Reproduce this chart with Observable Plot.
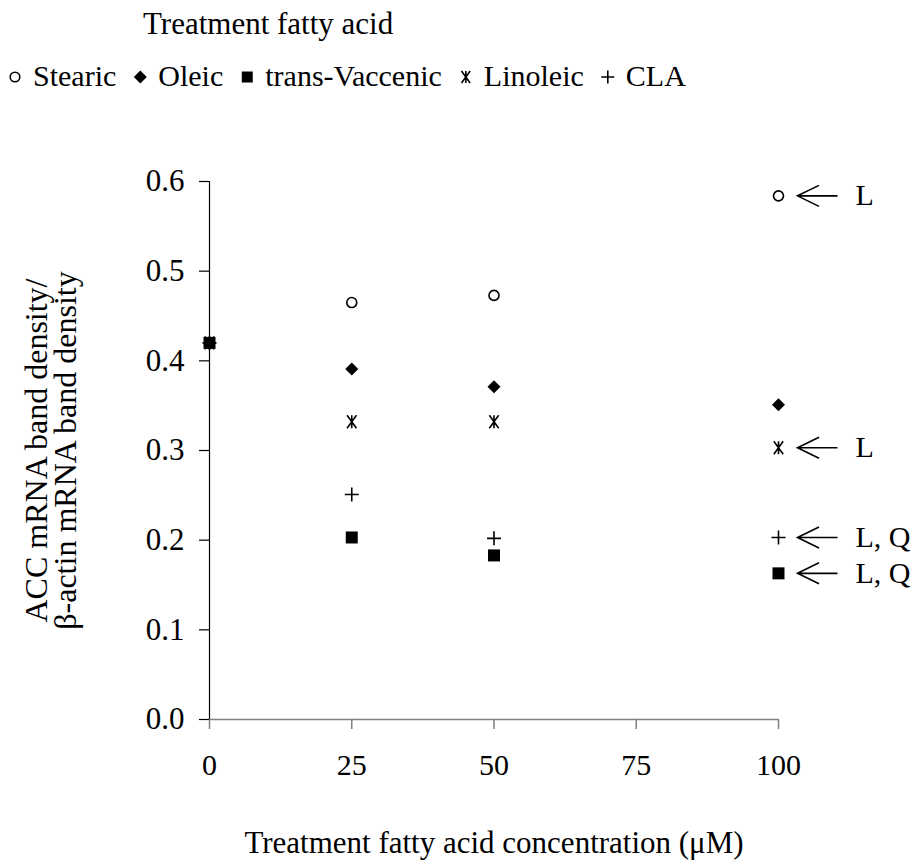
<!DOCTYPE html>
<html>
<head>
<meta charset="utf-8">
<script src="https://cdn.jsdelivr.net/npm/d3@7"></script>
<script src="https://cdn.jsdelivr.net/npm/@observablehq/plot@0.6"></script>
<style>
  body { margin: 0; background: #fff; }
  #wrap { width: 919px; height: 865px; position: relative; background: #fff; }
  #head { display: block; }
  #chart svg { display: block; }
</style>
</head>
<body>
<div id="wrap">
  <svg id="head" width="919" height="100"></svg>
  <div id="chart"></div>
</div>
<script>
// ---------- data ----------
const concentrations = [0, 25, 50, 100];
const seriesNames = ["Stearic", "Oleic", "trans-Vaccenic", "Linoleic", "CLA"];
const stearic = [0.42, 0.465, 0.473, 0.584];
const oleic = [0.42, 0.391, 0.371, 0.351];
const transVaccenic = [0.42, 0.203, 0.183, 0.163];
const linoleic = [0.42, 0.332, 0.332, 0.303];
const cla = [0.42, 0.251, 0.202, 0.203];
const xTicks = [0, 25, 50, 75, 100];
const yTicks = [0, 0.1, 0.2, 0.3, 0.4, 0.5, 0.6];
const annotSeries = ["Stearic", "Linoleic", "CLA", "trans-Vaccenic"];
const annotLabels = ["L", "L", "L, Q", "L, Q"];
const legendTitle = "Treatment fatty acid";
const xTitle = "Treatment fatty acid concentration (\u03bcM)";
const yTitle = "ACC mRNA band density/\n\u03b2-actin mRNA band density";

// ---------- symbols ----------
const rOf = (size) => Math.sqrt(size / Math.PI);
const symCircle = {draw(c, s) { const r = rOf(s); c.moveTo(r, 0); c.arc(0, 0, r, 0, 2 * Math.PI); }};
const symDiamond = {draw(c, s) { const r = rOf(s); c.moveTo(0, -r); c.lineTo(r, 0); c.lineTo(0, r); c.lineTo(-r, 0); c.closePath(); }};
const symSquare = {draw(c, s) { const r = rOf(s); c.rect(-r, -r, 2 * r, 2 * r); }};
const symAsterisk = {draw(c, s) { const r = rOf(s); const w = r * 0.72; c.moveTo(0, -r); c.lineTo(0, r); c.moveTo(-w, -r); c.lineTo(w, r); c.moveTo(-w, r); c.lineTo(w, -r); }};
const symPlus = {draw(c, s) { const r = rOf(s); c.moveTo(-r, 0); c.lineTo(r, 0); c.moveTo(0, -r); c.lineTo(0, r); }};
const symArrow = {draw(c, s) { const r = rOf(s); c.moveTo(r, 0); c.lineTo(-r, 0); c.moveTo(-r + 21.5, -10.5); c.lineTo(-r, 0); c.lineTo(-r + 21.5, 10.5); }};

const styles = {
  "Stearic": {symbol: symCircle, r: 5, fill: "white", stroke: "black", strokeWidth: 1.6, lr: 4.8},
  "Oleic": {symbol: symDiamond, r: 6.5, fill: "black", stroke: "none", strokeWidth: 0, lr: 6.5},
  "trans-Vaccenic": {symbol: symSquare, r: 6, fill: "black", stroke: "none", strokeWidth: 0, lr: 5.5},
  "Linoleic": {symbol: symAsterisk, r: 6.5, fill: "none", stroke: "black", strokeWidth: 1.6, lr: 6},
  "CLA": {symbol: symPlus, r: 7, fill: "none", stroke: "black", strokeWidth: 1.6, lr: 6.5}
};

const valuesBySeries = {
  "Stearic": stearic, "Oleic": oleic, "trans-Vaccenic": transVaccenic, "Linoleic": linoleic, "CLA": cla
};
const rows = seriesNames.map((s) => concentrations.map((x, i) => ({series: s, x, y: valuesBySeries[s][i]})));
const annotRows = annotSeries.map((s, i) => ({
  series: s, label: annotLabels[i],
  x: concentrations[concentrations.length - 1],
  y: valuesBySeries[s][valuesBySeries[s].length - 1]
}));

const FONT = '"Liberation Serif", "Times New Roman", Times, serif';

// ---------- header legend (flow layout) ----------
const head = d3.select("#head");
head.append("text").attr("x", 143).attr("y", 34).attr("font-family", FONT).attr("font-size", 31).text(legendTitle);
let cx = 15;
seriesNames.forEach((s) => {
  const st = styles[s];
  head.append("path")
    .attr("transform", `translate(${cx},77)`)
    .attr("d", d3.symbol().type(st.symbol).size(Math.PI * st.lr * st.lr)())
    .attr("fill", st.fill).attr("stroke", st.stroke).attr("stroke-width", st.strokeWidth);
  const t = head.append("text").attr("x", cx + 18).attr("y", 86)
    .attr("font-family", FONT).attr("font-size", 30).text(s);
  const w = t.node().getComputedTextLength();
  cx = cx + 18 + w + 24;
});

// ---------- plot ----------
const drawOrder = ["Stearic", "Oleic", "Linoleic", "CLA", "trans-Vaccenic"];
const dotMarks = drawOrder.map((s) => {
  const st = styles[s];
  return Plot.dot(rows[seriesNames.indexOf(s)], {
    x: "x", y: "y", symbol: () => st.symbol, r: st.r,
    fill: st.fill, stroke: st.stroke, strokeWidth: st.strokeWidth
  });
});

const plot = Plot.plot({
  width: 919,
  height: 765,
  marginLeft: 209,
  marginRight: 141,
  marginTop: 81,
  marginBottom: 146,
  style: {fontFamily: FONT, fontSize: "30px", color: "black", background: "white", overflow: "visible"},
  x: {domain: [0, 100]},
  y: {domain: [0, 0.6]},
  marks: [
    Plot.ruleY([0], {stroke: "#7f7f7f", strokeWidth: 1.5}),
    Plot.axisX({ticks: xTicks, tickSize: 10, tickPadding: 24, stroke: "#7f7f7f", strokeWidth: 1.5, fill: "black", label: null, fontSize: 30}),
    Plot.axisY({ticks: yTicks, tickFormat: d3.format(".1f"), tickSize: 10, tickPadding: 15, stroke: "black", strokeWidth: 1.2, fill: "black", label: null, fontSize: 31}),
    Plot.ruleX([0], {stroke: "black", strokeWidth: 1.2}),
    ...dotMarks,
    Plot.dot(annotRows, {x: "x", y: "y", symbol: () => symArrow, r: 20, dx: 39, stroke: "black", strokeWidth: 1.6, fill: "none"}),
    Plot.text(annotRows, {x: "x", y: "y", text: "label", dx: 77, textAnchor: "start", fontSize: 30, fill: "black"}),
    Plot.text([xTitle], {text: (d) => d, frameAnchor: "bottom", dy: 124, lineAnchor: "middle", fontSize: 31, fill: "black"}),
    Plot.text([yTitle], {text: (d) => d, frameAnchor: "left", dx: -157, rotate: -90, textAnchor: "middle", lineAnchor: "middle", lineHeight: 0.88, fontSize: 32, fill: "black"})
  ]
});
document.getElementById("chart").appendChild(plot);
</script>
</body>
</html>
